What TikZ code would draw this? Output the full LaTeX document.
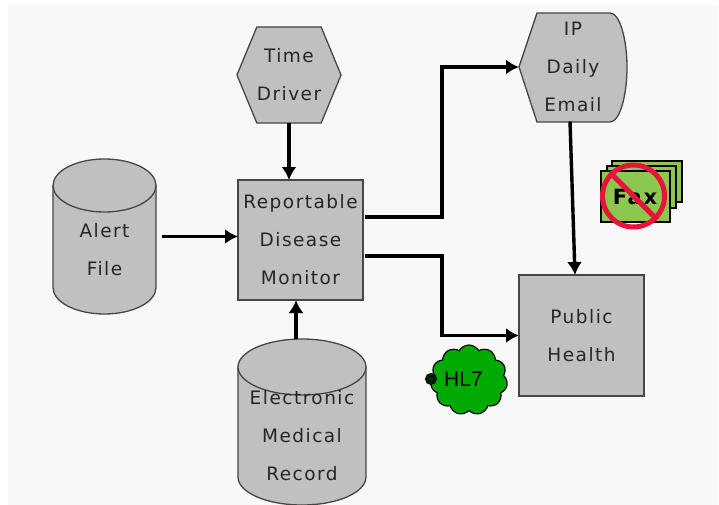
\documentclass[tikz,border=0pt]{standalone}
\usepackage{fontspec}
\setmainfont[LetterSpace=8]{DejaVu Sans}
\newfontfamily\hlfont{Liberation Sans}
\usetikzlibrary{arrows.meta,shapes.geometric,shapes.symbols}
\definecolor{pagegray}{RGB}{248,248,248}
\definecolor{boxgray}{RGB}{192,192,192}
\definecolor{edgegray}{RGB}{70,70,70}
\definecolor{cloudgreen}{RGB}{0,170,0}
\definecolor{faxgreen}{RGB}{140,200,80}
\definecolor{nored}{RGB}{230,20,60}
\tikzset{
  outline/.style={-,draw=edgegray,fill=boxgray,line width=1.3pt},
  caption/.style={align=center,text=black!85,font=\fontsize{18.5}{38}\selectfont,inner sep=0pt,outer sep=0pt},
  box/.style={rectangle,outline,caption},
  hex/.style={box,signal,signal to=west and east,signal pointer angle=135},
  ghost/.style={rectangle,inner sep=0pt,outer sep=0pt},
  sheet/.style={rectangle,draw=black,fill=faxgreen,line width=1.1pt,inner sep=0pt},
}
\begin{document}
\begin{tikzpicture}[x=1pt,y=-1pt,->,>={Latex[length=13pt,width=15pt]},line width=3.4pt]
  \useasboundingbox (0,0) rectangle (719,505);
  \fill[pagegray] (8,5) rectangle (718,505);

  % drums
  \draw[outline] (53,185.5) -- (53,287.5) arc (180:360:51.5pt and 26.5pt) -- (156,185.5) -- cycle;
  \draw[outline] (104.5,185.5) ellipse (51.5 and 26.5);
  \node[ghost,minimum width=103pt,minimum height=155pt] (alert) at (104.5,236.5) {};
  \node[caption] (alerttext) at (104.5,250) {Alert\\File};

  \draw[outline] (238,367) -- (238,477) arc (180:360:64pt and 28pt) -- (366,367) -- cycle;
  \draw[outline] (302,367) ellipse (64 and 28);
  \node[ghost,minimum width=128pt,minimum height=166pt] (record) at (302,422) {};
  \node[caption] (recordtext) at (302,436) {Electronic\\Medical\\Record};

  % boxes
  \node[hex,minimum width=102pt,minimum height=96pt] (driver) at (289,75) {Time\\Driver};
  \node[box,minimum width=125pt,minimum height=120pt] (monitor) at (300.5,240) {Reportable\\Disease\\Monitor};
  \node[box,minimum width=125pt,minimum height=121pt] (health) at (581.5,335.5) {Public\\Health};

  % email shape
  \draw[outline] (519,67) -- (537,13) -- (610,13)
    .. controls (620,13) and (627,40) .. (627,67)
    .. controls (627,95) and (620,122) .. (610,122) -- (537,122) -- cycle;
  \node[caption,minimum width=108pt,minimum height=109pt] (email) at (573,67) {IP\\Daily\\Email};

  % cloud and fax
  \node[cloud,cloud puffs=11,cloud puff arc=120,aspect=1.1,draw=black,fill=cloudgreen,line width=1.2pt,minimum width=77pt,minimum height=70pt,inner sep=0pt] (cloud) at (469,380) {};
  \node[font=\hlfont\fontsize{21}{24}\selectfont,inner sep=0pt] (hl7) at (463.5,379) {HL7};
  \node[circle,draw=black,fill=black!70!cloudgreen,line width=1pt,minimum size=11pt,inner sep=0pt] (plug) at (431,379) {};
  \node[circle,draw=black,line width=.7pt,minimum size=6pt,inner sep=0pt] (pluginner) at (431,379) {};

  \node[sheet,minimum width=70pt,minimum height=41pt] (sheetc) at (647,181.5) {};
  \node[sheet,minimum width=69pt,minimum height=42pt] (sheetb) at (641.5,187) {};
  \node[sheet,minimum width=69pt,minimum height=51pt] (sheeta) at (635.5,196.5) {};
  \node[font=\fontsize{21}{21}\selectfont\bfseries,inner sep=0pt] (fax) at (635,197) {Fax};
  \node[circle,draw=nored,line width=5pt,minimum size=62pt,inner sep=0pt] (nofax) at (633.5,196) {};
  \draw[-,draw=nored,line width=5pt] (nofax.135) -- (nofax.-45);

  % connectors
  \coordinate (elbowup) at (442,140);
  \coordinate (elbowdown) at (442,300);
  \draw ([xshift=6pt]alert.east) -- (monitor.west |- alert.east);
  \draw (driver.south) -- (monitor.north -| driver.south);
  \draw ([xshift=-6pt]record.north) -- ([xshift=-6pt]monitor.south -| record.north);
  \draw ([xshift=2pt,yshift=23pt]monitor.east) -| (elbowup) |- (email.west);
  \draw ([xshift=2pt,yshift=-16pt]monitor.east) -| (elbowdown) |- (health.west);
  \draw ([xshift=-3pt]email.south) -- ([xshift=-6.5pt]health.north);
\end{tikzpicture}
\end{document}
